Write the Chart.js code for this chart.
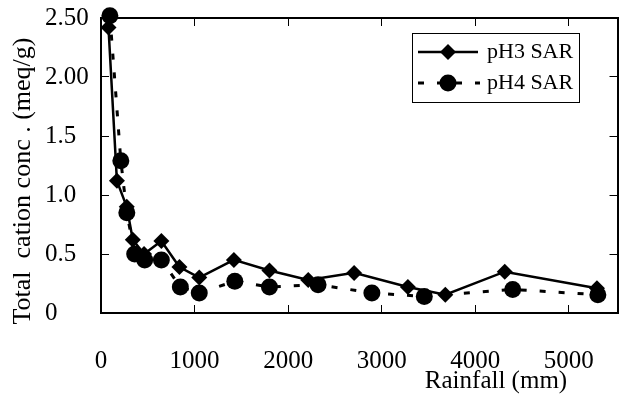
<!DOCTYPE html>
<html>
<head>
<meta charset="utf-8">
<script src="https://cdn.jsdelivr.net/npm/chart.js@4.4.1/dist/chart.umd.min.js"></script>
<style>
  html, body { margin: 0; padding: 0; background: #fff; }
  #wrap { position: relative; width: 626px; height: 394px; }
  #frame { position: absolute; box-sizing: border-box; border-top: 2px solid #000; border-right: 2px solid #000; pointer-events: none; }
</style>
</head>
<body>
<div id="wrap">
  <canvas id="chart" width="626" height="394"></canvas>
  <div id="frame"></div>
</div>
<script>
  // Values.
  const rainfallPH3 = [80, 170, 275, 340, 460, 645, 838, 1050, 1420, 1800, 2215, 2705, 3280, 3680, 4315, 5300];
  const concPH3 = [2.42, 1.12, 0.9, 0.62, 0.5, 0.61, 0.39, 0.3, 0.45, 0.36, 0.28, 0.34, 0.22, 0.155, 0.35, 0.21];

  const rainfallPH4 = [95, 212, 276, 360, 467, 645, 848, 1050, 1430, 1800, 2320, 2895, 3455, 4400, 5310];
  const concPH4 = [2.52, 1.29, 0.85, 0.5, 0.45, 0.45, 0.22, 0.17, 0.27, 0.22, 0.24, 0.17, 0.14, 0.2, 0.155];

  const xTicks = [0, 1000, 2000, 3000, 4000, 5000];
  const yTicks = [0, 0.5, 1.0, 1.5, 2.0, 2.5];
  const yTickLabels = ["0", "0.5", "1.0", "1.5", "2.00", "2.50"];

  const seriesNames = ["pH3 SAR", "pH4 SAR"];

  const X_MAX = 5520;
  const Y_MAX = 2.5;

  const FONT = "'Liberation Serif', 'Times New Roman', serif";

  function toPoints(xs, ys) {
    return xs.map((x, i) => ({ x, y: ys[i] }));
  }

  function drawDiamond(ctx, x, y, r) {
    ctx.beginPath();
    ctx.moveTo(x, y - r);
    ctx.lineTo(x + r, y);
    ctx.lineTo(x, y + r);
    ctx.lineTo(x - r, y);
    ctx.closePath();
    ctx.fill();
  }

  // Axis titles and the boxed legend.
  const overlay = {
    id: "overlay",
    afterDraw(chart) {
      const ctx = chart.ctx;
      ctx.save();
      ctx.fillStyle = "#000";
      ctx.strokeStyle = "#000";
      ctx.textBaseline = "middle";

      ctx.font = `25px ${FONT}`;
      ctx.textAlign = "center";
      ctx.fillText("Rainfall (mm)", 496, 381);

      ctx.save();
      ctx.translate(23, 181);
      ctx.rotate(-Math.PI / 2);
      ctx.font = `26px ${FONT}`;
      ctx.fillText("Total  cation conc . (meq/g)", 0, 0);
      ctx.restore();

      ctx.lineWidth = 1;
      ctx.strokeRect(412.5, 33.5, 167, 69);

      const rows = [52, 83];
      ctx.lineWidth = 2.5;
      ctx.beginPath();
      ctx.moveTo(418, rows[0]);
      ctx.lineTo(478, rows[0]);
      ctx.stroke();
      drawDiamond(ctx, 448, rows[0], 8);

      ctx.lineWidth = 3;
      ctx.setLineDash([6, 13]);
      ctx.beginPath();
      ctx.moveTo(418, rows[1]);
      ctx.lineTo(480, rows[1]);
      ctx.stroke();
      ctx.setLineDash([]);
      ctx.beginPath();
      ctx.arc(448, rows[1], 8.5, 0, Math.PI * 2);
      ctx.fill();

      ctx.font = `22px ${FONT}`;
      ctx.textAlign = "left";
      ctx.fillText(seriesNames[0], 487, rows[0]);
      ctx.fillText(seriesNames[1], 487, rows[1]);
      ctx.restore();

      // place the html frame (top/right edges) on the chart area
      const a = chart.chartArea;
      const f = document.getElementById("frame");
      f.style.left = (a.left - 1) + "px";
      f.style.top = (a.top - 1) + "px";
      f.style.width = (a.right - a.left + 2) + "px";
      f.style.height = (a.bottom - a.top + 2) + "px";
    },
  };

  // inward tick marks: a negative tick length turns them into the plot
  const inwardGrid = {
    display: true,
    drawOnChartArea: false,
    drawTicks: true,
    tickLength: -8,
    color: "#000",
    lineWidth: 1,
  };
  const frameBorder = { display: true, color: "#000", width: 2 };

  new Chart(document.getElementById("chart").getContext("2d"), {
    type: "scatter",
    data: {
      datasets: [
        {
          label: seriesNames[0],
          data: toPoints(rainfallPH3, concPH3),
          xAxisID: "x",
          yAxisID: "y",
          showLine: true,
          borderColor: "#000",
          backgroundColor: "#000",
          borderWidth: 2.5,
          pointStyle: "rectRot",
          pointRadius: 8,
          pointBorderWidth: 0,
          clip: false,
        },
        {
          label: seriesNames[1],
          data: toPoints(rainfallPH4, concPH4),
          xAxisID: "x",
          yAxisID: "y",
          showLine: true,
          borderColor: "#000",
          backgroundColor: "#000",
          borderWidth: 3,
          borderDash: [6, 13],
          pointStyle: "circle",
          pointRadius: 8.5,
          pointBorderWidth: 0,
          clip: false,
        },
      ],
    },
    options: {
      responsive: false,
      animation: false,
      layout: { padding: { top: 18, right: 5, left: 45, bottom: 0 } },
      plugins: {
        legend: { display: false },
        tooltip: { enabled: false },
      },
      scales: {
        x: {
          type: "linear",
          position: "bottom",
          min: 0,
          max: X_MAX,
          afterBuildTicks: (s) => { s.ticks = xTicks.map((v) => ({ value: v })); },
          afterFit: (s) => { s.height = 81; s.paddingLeft = 0; s.paddingRight = 0; },
          grid: inwardGrid,
          border: frameBorder,
          ticks: {
            color: "#000",
            font: { family: FONT, size: 25 },
            padding: 41,
            maxRotation: 0,
            autoSkip: false,
            callback: (v) => String(v),
          },
        },
        y: {
          type: "linear",
          position: "left",
          min: 0,
          max: Y_MAX,
          afterBuildTicks: (s) => { s.ticks = yTicks.map((v) => ({ value: v })); },
          afterFit: (s) => { s.width = 56; s.paddingTop = 0; s.paddingBottom = 0; },
          grid: inwardGrid,
          border: frameBorder,
          ticks: {
            color: "#000",
            font: { family: FONT, size: 25 },
            crossAlign: "far",
            padding: 0,
            autoSkip: false,
            callback: (v) => yTickLabels[yTicks.indexOf(v)],
          },
        },
        x2: {
          type: "linear",
          axis: "x",
          position: "top",
          min: 0,
          max: X_MAX,
          afterBuildTicks: (s) => { s.ticks = xTicks.map((v) => ({ value: v })); },
          afterFit: (s) => { s.height = 0; s.paddingLeft = 0; s.paddingRight = 0; },
          grid: inwardGrid,
          border: frameBorder,
          ticks: { display: false },
        },
        y2: {
          type: "linear",
          axis: "y",
          position: "right",
          min: 0,
          max: Y_MAX,
          afterBuildTicks: (s) => { s.ticks = yTicks.map((v) => ({ value: v })); },
          afterFit: (s) => { s.width = 0; s.paddingTop = 0; s.paddingBottom = 0; },
          grid: inwardGrid,
          border: frameBorder,
          ticks: { display: false },
        },
      },
    },
    plugins: [overlay],
  });
</script>
</body>
</html>
